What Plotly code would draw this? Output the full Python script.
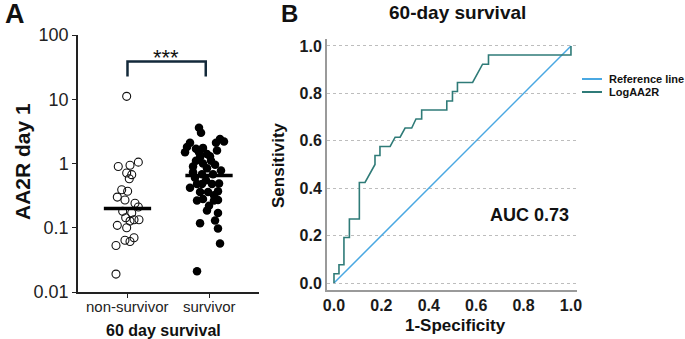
import plotly.graph_objects as go

W, H = 685, 339
FONT = "Liberation Sans, Arial, sans-serif"

# ---------------- Panel A data ----------------
categories = ["non-survivor", "survivor"]
nonsurv_jitter = [-0.01, -0.113, 0.031, 0.133, -0.01, 0.052, 0.022, -0.071, 0.002, -0.125,
                  -0.031, 0.092, 0.133, -0.059, 0.052, -0.022, 0.08, 0.141, 0.031, -0.125,
                  -0.01, 0.08, -0.031, 0.031, -0.141, -0.141]
nonsurv_values = [11.1, 0.90, 0.94, 1.05, 0.71, 0.67, 0.58, 0.39, 0.37, 0.30,
                  0.27, 0.24, 0.21, 0.18, 0.17, 0.143, 0.133, 0.133, 0.127, 0.109,
                  0.10, 0.070, 0.064, 0.061, 0.053, 0.019]
surv_jitter = [-0.123, -0.098, 0.135, 0.086, -0.233, -0.27, -0.16, -0.074, -0.294, -0.025,
               0.098, -0.123, 0.012, -0.11, -0.074, 0.074, -0.025, -0.196, -0.086, 0.049,
               -0.147, -0.086, 0.037, 0.123, -0.11, -0.012, 0.11, -0.147, -0.074, 0.061,
               0.11, -0.025, 0.11, -0.11, 0.074, 0.11, 0.135, -0.147, -0.196, 0.025,
               -0.172, 0.147, -0.037, -0.233, 0.061, 0.184, 0.0, -0.16]
surv_values = [3.6, 3.0, 2.4, 2.1, 2.1, 1.8, 1.7, 1.75, 1.5, 1.4,
               1.6, 1.5, 1.3, 1.25, 1.0, 0.96, 0.84, 0.73, 0.68, 0.68,
               0.48, 0.48, 0.48, 0.49, 0.36, 0.36, 0.37, 0.266, 0.28, 0.266,
               0.27, 0.186, 0.17, 0.118, 0.13, 0.097, 0.057, 0.021, 0.9, 1.1,
               0.6, 0.78, 0.55, 0.42, 0.32, 2.2, 0.22, 1.1]
group_centers = [0, 1]
group_means = [0.2, 0.65]
a_yticks = [0.01, 0.1, 1, 10, 100]
a_yticklabels = ["0.01", "0.1", "1", "10", "100"]
bracket_x = [0, 0.96]
bracket_y = [22.5, 38.6]

# ---------------- Panel B data ----------------
fpr = [0, 0, 0.021, 0.021, 0.042, 0.042, 0.065, 0.065, 0.107, 0.107, 0.131, 0.173, 0.173,
       0.194, 0.194, 0.237, 0.258, 0.279, 0.300, 0.328, 0.346, 0.370, 0.370, 0.476, 0.476,
       0.500, 0.500, 0.521, 0.521, 0.585, 0.627, 0.652, 0.652, 1.0, 1.0]
tpr = [0, 0.039, 0.039, 0.077, 0.077, 0.192, 0.192, 0.27, 0.27, 0.424, 0.424, 0.5, 0.538,
       0.538, 0.576, 0.576, 0.615, 0.615, 0.654, 0.654, 0.692, 0.692, 0.73, 0.73, 0.768,
       0.768, 0.808, 0.808, 0.846, 0.846, 0.923, 0.923, 0.962, 0.962, 1.0]
ref_x = [0, 1]
ref_y = [0, 1]
b_ticks = [0, 0.2, 0.4, 0.6, 0.8, 1.0]
b_ticklabels = ["0.0", "0.2", "0.4", "0.6", "0.8", "1.0"]
auc_text = "AUC 0.73"


def px(x):
    return x / W


def py(y):
    return 1 - y / H


fig = go.Figure()

# Panel A scatter
fig.add_trace(go.Scatter(
    x=[group_centers[0] + j for j in nonsurv_jitter], y=nonsurv_values,
    mode="markers", xaxis="x", yaxis="y", showlegend=False,
    marker=dict(symbol="circle-open", size=8, color="#111", line=dict(width=1.1, color="#111"))))
fig.add_trace(go.Scatter(
    x=[group_centers[1] + j for j in surv_jitter], y=surv_values,
    mode="markers", xaxis="x", yaxis="y", showlegend=False,
    marker=dict(symbol="circle", size=8.5, color="#000")))
for c, m in zip(group_centers, group_means):
    fig.add_trace(go.Scatter(x=[c - 0.29, c + 0.29], y=[m, m], mode="lines",
                             xaxis="x", yaxis="y", showlegend=False,
                             line=dict(color="#000", width=3.5)))
fig.add_trace(go.Scatter(
    x=[bracket_x[0], bracket_x[0], bracket_x[1], bracket_x[1]],
    y=[bracket_y[0], bracket_y[1], bracket_y[1], bracket_y[0]],
    mode="lines", xaxis="x", yaxis="y", showlegend=False,
    line=dict(color="#13293a", width=2.5)))

# Panel B
fig.add_trace(go.Scatter(x=ref_x, y=ref_y, mode="lines", xaxis="x2", yaxis="y2",
                         name="Reference line", showlegend=False,
                         line=dict(color="#4aa8e2", width=1.5)))
fig.add_trace(go.Scatter(x=fpr, y=tpr, mode="lines", xaxis="x2", yaxis="y2",
                         name="LogAA2R", showlegend=False,
                         line=dict(color="#2f7b78", width=1.6)))

fig.update_layout(
    width=W, height=H, autosize=False,
    margin=dict(l=0, r=0, t=0, b=0, pad=0, autoexpand=False),
    showlegend=False,
    paper_bgcolor="white", plot_bgcolor="white",
    font=dict(family=FONT, color="#1a1a1a"),
    xaxis=dict(domain=[px(78), px(258.5)], range=[-0.607, 1.607],
               tickvals=group_centers, ticktext=["", ""], automargin=False,
               ticks="outside", ticklen=4, tickwidth=1.3, tickcolor="#222",
               showline=True, linecolor="#222", linewidth=1.5,
               showgrid=False, zeroline=False, anchor="y"),
    yaxis=dict(domain=[py(292), py(35)], type="log", range=[-2, 2],
               tickvals=a_yticks, ticktext=a_yticklabels, automargin=False,
               ticks="outside", ticklen=4, tickwidth=1.3, tickcolor="#222",
               showline=True, linecolor="#222", linewidth=1.5,
               showgrid=False, zeroline=False,
               tickfont=dict(size=18, family=FONT, color="#222"), anchor="x"),
    xaxis2=dict(domain=[px(327), px(577)], range=[-0.0295, 1.0255],
                tickvals=b_ticks, ticktext=b_ticklabels, ticks="", automargin=False,
                showline=True, linecolor="#9a9a9a", linewidth=2,
                showgrid=False, zeroline=False,
                tickfont=dict(size=16, family=FONT, color="#1a1a1a", weight="bold"),
                anchor="y2"),
    yaxis2=dict(domain=[py(290), py(39)], range=[-0.0295, 1.0295],
                tickvals=b_ticks, ticktext=b_ticklabels, ticks="", automargin=False,
                showline=True, linecolor="#9a9a9a", linewidth=2,
                showgrid=True, gridcolor="#bdbdbd", griddash="dot", gridwidth=1,
                zeroline=False,
                tickfont=dict(size=16, family=FONT, color="#1a1a1a", weight="bold"),
                anchor="x2"),
)

ann = []
def text(x, y, s, size, bold=True, xanchor="center", yanchor="middle", angle=0, color="#111"):
    ann.append(dict(x=px(x), y=py(y), xref="paper", yref="paper", text=s, showarrow=False,
                    xanchor=xanchor, yanchor=yanchor, textangle=angle,
                    font=dict(family=FONT, size=size, color=color,
                              weight="bold" if bold else "normal")))

text(15, 14.5, "A", 27)
text(289, 13.5, "B", 24)
text(457, 12, "60-day survival", 19)
text(22, 162, "AA2R day 1", 21, angle=-90)
text(163, 330, "60 day survival", 16)
text(278, 165, "Sensitivity", 17, angle=-90)
text(455, 325, "1-Specificity", 17)
text(166, 58, "***", 22, bold=False)
# category labels (panel A x axis)
for c, lab in zip(group_centers, categories):
    ann.append(dict(x=c, y=py(306), xref="x", yref="paper", text=lab, showarrow=False,
                    xanchor="center", yanchor="middle",
                    font=dict(family=FONT, size=15, color="#222")))
# legend text
text(607, 79, "Reference line", 11, xanchor="left")
text(607, 92, "LogAA2R", 11, xanchor="left")
ann.append(dict(x=0.827, y=0.287, xref="x2", yref="y2", text=auc_text, showarrow=False,
                font=dict(family=FONT, size=18, color="#111", weight="bold")))
fig.update_layout(annotations=ann)

fig.update_layout(shapes=[
    dict(type="line", xref="paper", yref="paper", x0=px(582), x1=px(602), y0=py(79), y1=py(79),
         line=dict(color="#4aa8e2", width=2)),
    dict(type="line", xref="paper", yref="paper", x0=px(582), x1=px(602), y0=py(92), y1=py(92),
         line=dict(color="#2f7b78", width=2)),
])

fig.write_html(
    "out.html",
    config={"displayModeBar": False},
    post_script=(
        "document.documentElement.style.margin='0';"
        "document.body.style.margin='0';"
        "document.documentElement.style.overflow='hidden';"
        "document.body.style.overflow='hidden';"
        "var d=document.getElementById('{plot_id}');"
        "d.style.position='fixed';d.style.top='0px';d.style.left='0px';"
    ),
)
